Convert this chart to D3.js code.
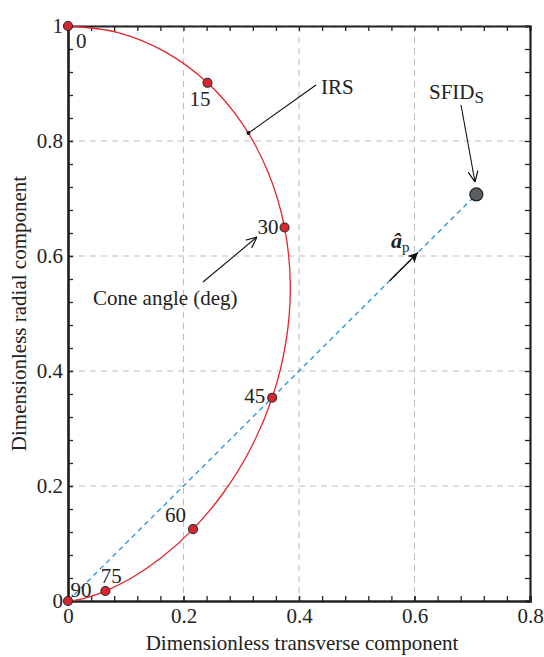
<!DOCTYPE html>
<html>
<head>
<meta charset="utf-8">
<script src="https://cdn.jsdelivr.net/npm/d3@7/dist/d3.min.js"></script>
<style>
  html, body { margin: 0; padding: 0; background: #fff; }
  svg { display: block; }
  text { font-family: "Liberation Serif", "DejaVu Serif", serif; fill: #222; }
</style>
</head>
<body>
<svg id="chart" width="544" height="657"></svg>
<script>
// Cone angles (deg) of the marked points
const coneAngles = [0, 15, 30, 45, 60, 75, 90];
// Marked points: transverse / radial components
const markTransverse = [0, 0.2415, 0.375, 0.3536, 0.2165, 0.0647, 0];
const markRadial     = [1, 0.9012, 0.6495, 0.3536, 0.125, 0.0173, 0];

// IRS curve samples (every 5 deg of cone angle)
const irsTransverse = [0, 0.0865, 0.1684, 0.2415, 0.3020, 0.3471, 0.375, 0.3849, 0.3772, 0.3536,
                       0.3165, 0.2695, 0.2165, 0.1619, 0.1099, 0.0647, 0.0297, 0.0076, 0];
const irsRadial     = [1, 0.9886, 0.9551, 0.9012, 0.8298, 0.7444, 0.6495, 0.5497, 0.4495, 0.3536,
                       0.2656, 0.1887, 0.125, 0.0755, 0.0400, 0.0173, 0.0052, 0.0007, 0];

// SFIDS point and thrust direction
const sfids = [0.7071, 0.7071];
const thrustDir = [[0, 0], [0.7071, 0.7071]];
const thrustArrow = [[0.557, 0.557], [0.606, 0.606]];

// Axis ticks
const xTicks = [0, 0.2, 0.4, 0.6, 0.8];
const yTicks = [0, 0.2, 0.4, 0.6, 0.8, 1];
const xTickLabels = ["0", "0.2", "0.4", "0.6", "0.8"];
const yTickLabels = ["0", "0.2", "0.4", "0.6", "0.8", "1"];
const minorX = d3.range(0, 21).map(i => +(i * 0.04).toFixed(2));
const minorY = d3.range(0, 26).map(i => +(i * 0.04).toFixed(2));

const svg = d3.select("#chart");
const L = 68, R = 530, T = 26, B = 601;
const FS = 21;
const x = d3.scaleLinear().domain([0, 0.8]).range([L, R]);
const y = d3.scaleLinear().domain([0, 1]).range([B, T]);

const defs = svg.append("defs");
defs.append("marker").attr("id", "solidHead").attr("viewBox", "0 0 10 10")
  .attr("refX", 10).attr("refY", 5).attr("markerWidth", 10).attr("markerHeight", 10)
  .attr("markerUnits", "userSpaceOnUse").attr("orient", "auto")
  .append("path").attr("d", "M0,0 L10,5 L0,10 L2.5,5 Z").attr("fill", "#111");
defs.append("marker").attr("id", "openHead").attr("viewBox", "0 0 10 10")
  .attr("refX", 10).attr("refY", 5).attr("markerWidth", 11).attr("markerHeight", 11)
  .attr("markerUnits", "userSpaceOnUse").attr("orient", "auto")
  .append("path").attr("d", "M0,0.5 L10,5 L0,9.5").attr("fill", "none")
  .attr("stroke", "#111").attr("stroke-width", 1.1);

// Dashed grid
const grid = svg.append("g").attr("stroke", "#bdbdbd").attr("stroke-width", 1.1)
  .attr("stroke-dasharray", "6,5");
grid.selectAll(".gx").data(xTicks.slice(1, -1)).join("line")
  .attr("x1", d => x(d)).attr("x2", d => x(d)).attr("y1", T).attr("y2", B);
grid.selectAll(".gy").data(yTicks.slice(1, -1)).join("line")
  .attr("x1", L).attr("x2", R).attr("y1", d => y(d)).attr("y2", d => y(d));
grid.append("line").attr("x1", L).attr("x2", R).attr("y1", y(1)).attr("y2", y(1));

// Axes: all four sides, inward ticks
const tickLen = 5;
const axB = svg.append("g").attr("transform", `translate(0,${B})`)
  .call(d3.axisBottom(x).tickValues(xTicks).tickSize(-tickLen).tickPadding(7)
    .tickFormat((d, i) => xTickLabels[i]));
const axT = svg.append("g").attr("transform", `translate(0,${T})`)
  .call(d3.axisTop(x).tickValues(minorX).tickSize(-tickLen).tickFormat(""));
const axL = svg.append("g").attr("transform", `translate(${L},0)`)
  .call(d3.axisLeft(y).tickValues(yTicks).tickSize(-tickLen).tickPadding(5)
    .tickFormat((d, i) => yTickLabels[i]));
const axR = svg.append("g").attr("transform", `translate(${R},0)`)
  .call(d3.axisRight(y).tickValues(minorY).tickSize(-tickLen).tickFormat(""));
const axBm = svg.append("g").attr("transform", `translate(0,${B})`)
  .call(d3.axisBottom(x).tickValues(minorX).tickSize(-tickLen).tickFormat(""));
const axLm = svg.append("g").attr("transform", `translate(${L},0)`)
  .call(d3.axisLeft(y).tickValues(minorY).tickSize(-tickLen).tickFormat(""));
[axB, axT, axL, axR, axBm, axLm].forEach(g => {
  g.select(".domain").attr("stroke", "#222").attr("stroke-width", 2.2);
  g.selectAll(".tick line").attr("stroke", "#222").attr("stroke-width", 1.3);
  g.selectAll(".tick text").attr("font-family", "Liberation Serif").attr("font-size", FS)
    .attr("fill", "#222");
});

// Axis titles
svg.append("text").attr("x", 302).attr("y", 650).attr("text-anchor", "middle")
  .attr("font-size", FS).text("Dimensionless transverse component");
svg.append("text").attr("transform", `translate(26,${(T + B) / 2}) rotate(-90)`)
  .attr("text-anchor", "middle").attr("font-size", FS).text("Dimensionless radial component");

// Thrust direction (dashed blue)
svg.append("path").datum(thrustDir)
  .attr("d", d3.line().x(d => x(d[0])).y(d => y(d[1])))
  .attr("fill", "none").attr("stroke", "#2f9bd6").attr("stroke-width", 1.4)
  .attr("stroke-dasharray", "5,4");

// IRS curve
const irs = irsTransverse.map((v, i) => [v, irsRadial[i]]);
svg.append("path").datum(irs)
  .attr("d", d3.line().x(d => x(d[0])).y(d => y(d[1])).curve(d3.curveCatmullRom.alpha(0.5)))
  .attr("fill", "none").attr("stroke", "#e0262e").attr("stroke-width", 1.3);

// Thrust unit-vector arrow
svg.append("path").datum(thrustArrow)
  .attr("d", d3.line().x(d => x(d[0])).y(d => y(d[1])))
  .attr("stroke", "#111").attr("stroke-width", 1.4).attr("marker-end", "url(#solidHead)");
const ap = svg.append("text").attr("x", 391).attr("y", 248).attr("font-size", 22);
ap.append("tspan").attr("font-weight", "bold").attr("font-style", "italic").text("â");
ap.append("tspan").attr("font-size", 15).attr("dy", 4).text("p");

// IRS annotation
const irsMark = [0.3124, 0.8137];
svg.append("line").attr("x1", x(irsMark[0])).attr("y1", y(irsMark[1]))
  .attr("x2", 316).attr("y2", 85).attr("stroke", "#111").attr("stroke-width", 1.1);
svg.append("circle").attr("cx", x(irsMark[0])).attr("cy", y(irsMark[1])).attr("r", 2).attr("fill", "#111");
svg.append("text").attr("x", 321).attr("y", 94).attr("font-size", FS).text("IRS");

// SFIDS annotation
svg.append("line").attr("x1", 461).attr("y1", 105).attr("x2", 475).attr("y2", 182)
  .attr("stroke", "#111").attr("stroke-width", 1.1).attr("marker-end", "url(#openHead)");
const sf = svg.append("text").attr("x", 429).attr("y", 99).attr("font-size", FS);
sf.append("tspan").text("SFID");
sf.append("tspan").attr("font-size", 17).attr("dy", 4).text("S");

// Cone angle annotation
svg.append("line").attr("x1", 203).attr("y1", 282).attr("x2", 257).attr("y2", 237)
  .attr("stroke", "#111").attr("stroke-width", 1.1).attr("marker-end", "url(#openHead)");
svg.append("text").attr("x", 93).attr("y", 305).attr("font-size", FS).text("Cone angle (deg)");

// Marked points
const marks = coneAngles.map((a, i) => ({ a, t: markTransverse[i], r: markRadial[i] }));
svg.selectAll(".mark").data(marks).join("circle")
  .attr("cx", d => x(d.t)).attr("cy", d => y(d.r)).attr("r", 4.5)
  .attr("fill", "#d9262e").attr("stroke", "#2a2a2a").attr("stroke-width", 1.1);

// Cone angle labels
const labelOffsets = { 0: [8, 22, "start"], 15: [3, 23, "end"], 30: [-6, 6, "end"],
  45: [-7, 5, "end"], 60: [-7, -7, "end"], 75: [6, -8, "middle"], 90: [13, -4, "middle"] };
svg.selectAll(".alab").data(marks).join("text")
  .attr("x", d => x(d.t) + labelOffsets[d.a][0]).attr("y", d => y(d.r) + labelOffsets[d.a][1])
  .attr("text-anchor", d => labelOffsets[d.a][2]).attr("font-size", FS)
  .text(d => d.a);

// SFIDS point
svg.append("circle").attr("cx", x(sfids[0])).attr("cy", y(sfids[1])).attr("r", 6.5)
  .attr("fill", "#5b5d60").attr("stroke", "#222").attr("stroke-width", 1.2);
</script>
</body>
</html>
